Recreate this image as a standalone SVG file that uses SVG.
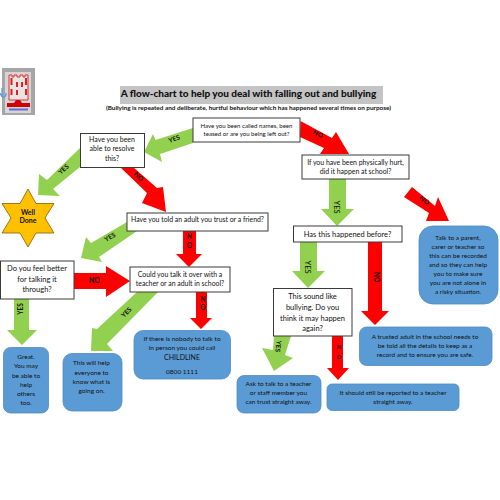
<svg xmlns="http://www.w3.org/2000/svg" width="500" height="500" viewBox="0 0 500 500">
<style>
text{font-family:Lato,"Liberation Sans",sans-serif;fill:#111;text-anchor:middle}
.box{fill:#fff;stroke:#3a3a3a;stroke-width:1}
.blue{fill:#5b9bd5;stroke:#4f8bc2;stroke-width:.8}
.g{fill:#92d050}.r{fill:#f00}
.t{font-size:6.900px}.m{font-size:7.500px}.b{font-size:6.500px}.s{font-size:6.100px}
.l{font-size:6.500px;font-weight:700}
</style>
<rect width="500" height="500" fill="#fff"/>
<g id="logo">
<rect x="2" y="68" width="33" height="47" fill="#a6a6a6"/>
<rect x="5" y="72" width="26" height="41" fill="#d6d4d4"/>
<path d="M9 75h3v2h2v-2h3v2h3v-2h3v2h2v-2h3v25H9z" fill="#e8e4e4" stroke="#d33" stroke-width="1"/>
<g fill="#e02020"><rect x="10.500" y="78" width="2" height="7"/><rect x="16" y="82" width="2" height="5"/><rect x="21" y="82" width="2" height="5"/><rect x="25" y="78" width="2" height="7"/><rect x="10.500" y="89" width="2" height="6"/><rect x="16" y="90" width="2" height="5"/><rect x="25" y="89" width="2" height="6"/></g>
<path d="M7 107v-4h7l2-3h4l2 3h8v4z" fill="#d00000"/>
<rect x="9" y="108.500" width="19" height="2" fill="#6a6ad8"/>
<path d="M2 88v8M0 93q2 5 4 4q2 0 2-4" fill="none" stroke="#5b9bd5" stroke-width="1.200"/>
</g>
<g id="title">
<rect x="120" y="86" width="263" height="18" fill="#c4c4c4"/>
<text x="248.500" y="96.500" font-size="10" font-weight="900">A flow-chart to help you deal with falling out and bullying</text>
<text x="248.500" y="109.500" font-size="6.400" font-weight="700">(Bullying is repeated and deliberate, hurtful behaviour which has happened several times on purpose)</text>
</g>
<g id="connectors">
<polygon class="g" points="193,128 155.500,140 153,134 144,152 162,162 160,154 193,143"/>
<polygon class="g" points="80,148 47,180 39,174 38,195 60,196 53,189 80,167"/>
<polygon class="r" points="120,167 133,167 157,188 163,187 166,212 142,203 147,193"/>
<polygon class="r" points="300.500,121 332,138 336,132 349,154 320,154 324,148 300,137"/>
<polygon class="g" points="329,179 346,179 346,209 354,209 337,226 321,209 329,209"/>
<polygon class="r" points="412,187 435,206 438,197 449,221 426,221 429,213 404,197"/>
<polygon class="g" points="127,222 91,243 86,237 81,258 102,262 99,257 137,231"/>
<polygon class="r" points="183,231 196,231 196,254 202,254 189,267 176,254 183,254"/>
<polygon class="r" points="74,273 106,273 106,266 130,281 106,297 106,289 74,289"/>
<polygon class="g" points="14,299 29,299 29,330 37,330 22,345 7,330 14,330"/>
<polygon class="g" points="137,292 158,292 107,344 113,351 91,351 92,328 97,329"/>
<polygon class="r" points="196,292 207,292 207,318 212,318 201,329 190,318 196,318"/>
<polygon class="g" points="300,242 317,242 317,271 325,271 308,288 292,271 300,271"/>
<polygon class="r" points="368,242 382,242 382,311 389,311 375,325 361,311 368,311"/>
<polygon class="g" points="274,336 291,336 285,355 293,358 274,371 262,348 273,350"/>
<polygon class="r" points="332,336 343,336 343,368 349,368 338,380 327,368 332,368"/>
<text class="l" transform="translate(175,141) rotate(-20)">YES</text>
<text class="l" transform="translate(65,171) rotate(-42)">YES</text>
<text class="l" transform="translate(137,178) rotate(45)">NO</text>
<text class="l" transform="translate(317,136) rotate(25)">NO</text>
<text class="l" transform="translate(334,207) rotate(90)" style="font-size:7.500px;font-weight:400">YES</text>
<text class="l" transform="translate(423,202) rotate(40)">NO</text>
<text class="l" transform="translate(111,239) rotate(-30)">YES</text>
<text class="l" x="189.500" y="239">N</text>
<text class="l" x="189.500" y="248">O</text>
<text class="l" x="94.500" y="283" style="font-size:7px">NO</text>
<text class="l" transform="translate(22.500,309) rotate(-90)">YES</text>
<text class="l" transform="translate(128,314) rotate(-45)">YES</text>
<text class="l" x="203" y="302">N</text>
<text class="l" x="203" y="310">O</text>
<text class="l" transform="translate(305,267) rotate(90)" style="font-size:7.500px;font-weight:400">YES</text>
<text class="l" transform="translate(374,277) rotate(90)">NO</text>
<text class="l" transform="translate(276,346) rotate(97)">YES</text>
<text class="l" x="339" y="349" style="font-size:5.500px">N</text>
<text class="l" x="339" y="359" style="font-size:5.500px">O</text>
</g>
<g id="n1"><rect class="box" x="193" y="118" width="107" height="24"/><text class="s" x="246.500" y="127.500">Have you been called names, been</text><text class="s" x="246.500" y="135.500">teased or are you being left out?</text></g>
<g id="n2"><rect class="box" x="80.500" y="133.500" width="64" height="34"/><text class="b" x="112" y="141.500" style="font-size:7px">Have you been</text><text class="b" x="112" y="151" style="font-size:7px">able to resolve</text><text class="b" x="112" y="161" style="font-size:7px">this?</text></g>
<g id="n3"><rect class="box" x="302" y="155" width="107" height="24"/><text class="t" x="355.500" y="164.500">If you have been physically hurt,</text><text class="t" x="355.500" y="173.500">did it happen at school?</text></g>
<g id="n4"><rect class="box" x="127" y="213" width="141" height="18"/><text class="t" x="197.500" y="221.500">Have you told an adult you trust or a friend?</text></g>
<g id="n5"><rect class="box" x="0.500" y="261" width="73.500" height="38"/><text class="m" x="37" y="271">Do you feel better</text><text class="m" x="37" y="282">for talking it</text><text class="m" x="37" y="292">through?</text></g>
<g id="n6"><rect class="box" x="130" y="267" width="100" height="25"/><text class="t" x="180" y="276.500">Could you talk it over with a</text><text class="t" x="180" y="285.500">teacher or an adult in school?</text></g>
<g id="n7"><rect class="box" x="293.500" y="226" width="108.500" height="16"/><text class="m" x="347.500" y="236.500">Has this happened before?</text></g>
<g id="n8"><rect class="box" x="273.500" y="288.500" width="78.500" height="47.500"/><text class="m" x="312.500" y="298.500">This sound like</text><text class="m" x="312.500" y="309.500">bullying. Do you</text><text class="m" x="312.500" y="320.500">think it may happen</text><text class="m" x="312.500" y="331">again?</text></g>
<g id="star"><polygon points="28,189 36,203.500 54,203.500 45,218 54,233 36,233 28,247 20,233 2,233 11,218 2,203.500 20,203.500" fill="#ffc000" stroke="#7f6000" stroke-width=".8"/><text x="28" y="214.500" style="font-size:7px;font-weight:700">Well</text><text x="28" y="222.500" style="font-size:7px;font-weight:700">Done</text></g>
<g id="b1"><rect class="blue" x="3.500" y="347.500" width="45" height="65.500" rx="7"/><text class="b" x="26" y="359">Great.</text><text class="b" x="26" y="368">You may</text><text class="b" x="26" y="377.500">be able to</text><text class="b" x="26" y="386.500">help</text><text class="b" x="26" y="395.500">others</text><text class="b" x="26" y="404.500">too.</text></g>
<g id="b2"><rect class="blue" x="63" y="353.500" width="59" height="57.500" rx="9"/><text class="b" x="91.500" y="365">This will help</text><text class="b" x="91.500" y="374.500">everyone to</text><text class="b" x="91.500" y="383.500">know what is</text><text class="b" x="91.500" y="393">going on.</text></g>
<g id="b3"><rect class="blue" x="134" y="330.500" width="96.500" height="48.500" rx="9"/><text class="b" x="182" y="341">If there is nobody to talk to</text><text class="b" x="182" y="350">in person you could call</text><text class="b" x="182" y="359.500" style="font-size:7px">CHILDLINE</text><text class="b" x="182" y="373.500">0800 1111</text></g>
<g id="b4"><rect class="blue" x="419" y="226" width="79" height="78" rx="14"/><text class="b" x="458" y="239.500">Talk to a parent,</text><text class="b" x="458" y="248.500">carer or teacher so</text><text class="b" x="458" y="257.500">this can be recorded</text><text class="b" x="458" y="266.500">and so they can help</text><text class="b" x="458" y="275.500">you to make sure</text><text class="b" x="458" y="284.500">you are not alone in</text><text class="b" x="458" y="293.500">a risky situation.</text></g>
<g id="b5"><rect class="blue" x="359.500" y="327" width="132.500" height="38.500" rx="7"/><text class="b" x="425" y="338.500">A trusted adult in the school needs to</text><text class="b" x="425" y="347.500">be told all the details to keep as a</text><text class="b" x="425" y="356.500">record and to ensure you are safe.</text></g>
<g id="b6"><rect class="blue" x="237" y="375.500" width="84" height="37.500" rx="7"/><text class="b" x="278.500" y="385.500">Ask to talk to a teacher</text><text class="b" x="278.500" y="394.500">or staff member you</text><text class="b" x="278.500" y="403.500">can trust straight away.</text></g>
<g id="b7"><rect class="blue" x="327" y="384" width="132" height="26.500" rx="5"/><text class="b" x="393" y="394.500">It should still be reported to a teacher</text><text class="b" x="393" y="403.500">straight away.</text></g>
</svg>
